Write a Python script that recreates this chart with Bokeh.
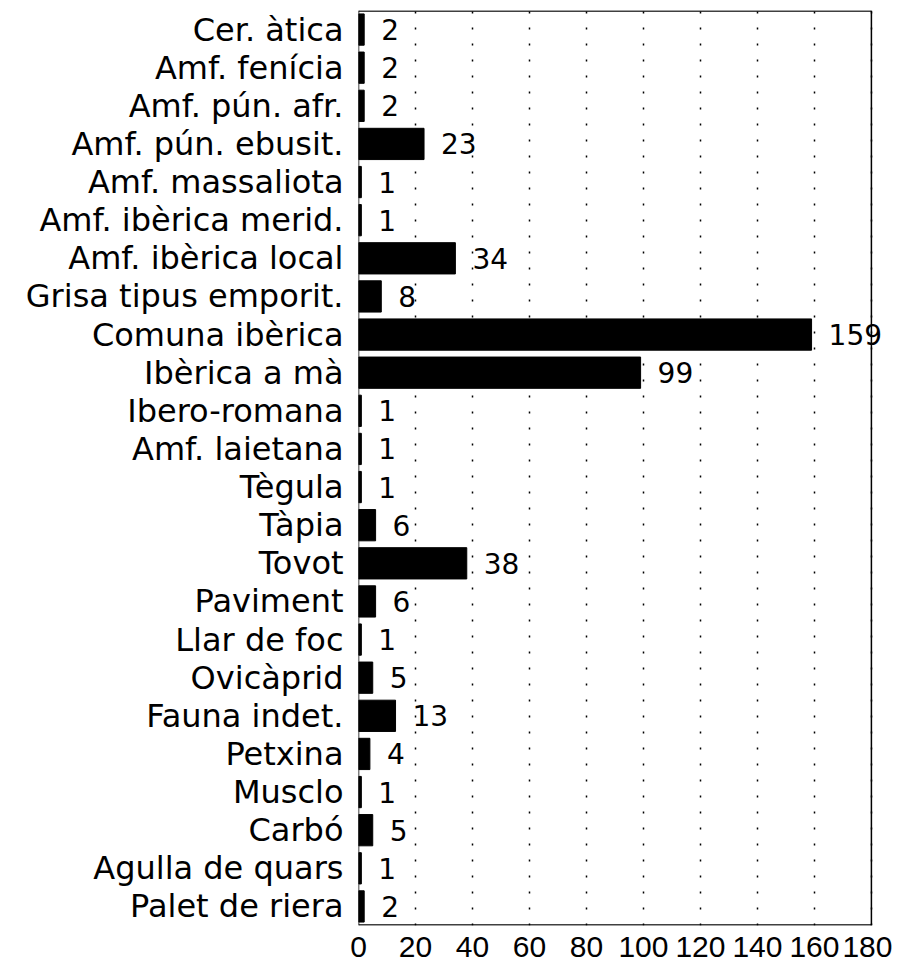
from bokeh.plotting import figure
from bokeh.models import ColumnDataSource, FactorRange, Range1d, FixedTicker, LabelSet, Span
from bokeh.core.properties import value
from bokeh.embed import file_html
from bokeh.resources import INLINE

categories = ["Cer. àtica", "Amf. fenícia", "Amf. pún. afr.", "Amf. pún. ebusit.",
              "Amf. massaliota", "Amf. ibèrica merid.", "Amf. ibèrica local",
              "Grisa tipus emporit.", "Comuna ibèrica", "Ibèrica a mà", "Ibero-romana",
              "Amf. laietana", "Tègula", "Tàpia", "Tovot", "Paviment", "Llar de foc",
              "Ovicàprid", "Fauna indet.", "Petxina", "Musclo", "Carbó",
              "Agulla de quars", "Palet de riera"]
values = [2, 2, 2, 23, 1, 1, 34, 8, 159, 99, 1, 1, 1, 6, 38, 6, 1, 5, 13, 4, 1, 5, 1, 2]
x_ticks = [0, 20, 40, 60, 80, 100, 120, 140, 160, 180]
x_max = 180

src = ColumnDataSource(dict(cat=categories, val=values, lab=[str(v) for v in values]))

p = figure(width=892, height=972, output_backend="svg", toolbar_location=None,
           y_range=FactorRange(*list(reversed(categories)), range_padding=0),
           x_range=Range1d(0, 186),
           min_border_left=358, min_border_right=4, min_border_top=10, min_border_bottom=47)

p.hbar(y="cat", right="val", left=0, height=0.82, source=src,
       fill_color="black", line_color="black")

labels = LabelSet(x="val", y="cat", text="lab", source=src, x_offset=17,
                  text_baseline="middle", text_align="left",
                  text_font=value("DejaVu Sans"), text_font_size=value("28px"),
                  text_color="black")
p.add_layout(labels)

# plot box (drawn only up to 180)
p.add_layout(Span(location=0, dimension="height", line_color="black", line_width=1.5))
p.add_layout(Span(location=x_max, dimension="height", line_color="black", line_width=1.5))
box = ColumnDataSource(dict(x0=[0, 0], x1=[x_max, x_max],
                            y=[[categories[0], 0.49], [categories[-1], -0.49]]))
p.segment(x0="x0", x1="x1", y0="y", y1="y", source=box, line_color="black", line_width=1.5)

p.xaxis.ticker = FixedTicker(ticks=x_ticks)
p.xaxis.major_tick_line_color = None
p.xaxis.major_tick_out = 0
p.xaxis.major_tick_in = 0
p.xaxis.minor_tick_line_color = None
p.xaxis.axis_line_color = None
p.xaxis.major_label_standoff = 11
p.xaxis.major_label_text_font = "Liberation Sans"
p.xaxis.major_label_text_font_size = "30px"
p.xaxis.major_label_text_color = "black"

p.yaxis.major_tick_line_color = None
p.yaxis.major_tick_out = 0
p.yaxis.major_tick_in = 0
p.yaxis.minor_tick_line_color = None
p.yaxis.axis_line_color = None
p.yaxis.major_label_standoff = 15
p.yaxis.major_label_text_font = "DejaVu Sans"
p.yaxis.major_label_text_font_size = "32px"
p.yaxis.major_label_text_color = "black"

p.ygrid.grid_line_color = None
p.xgrid.grid_line_color = "black"
p.xgrid.grid_line_dash = "2 14"
p.xgrid.grid_line_width = 1.5

p.outline_line_color = None
p.background_fill_color = "white"
p.border_fill_color = "white"

open("out.html", "w").write(file_html(p, INLINE))
